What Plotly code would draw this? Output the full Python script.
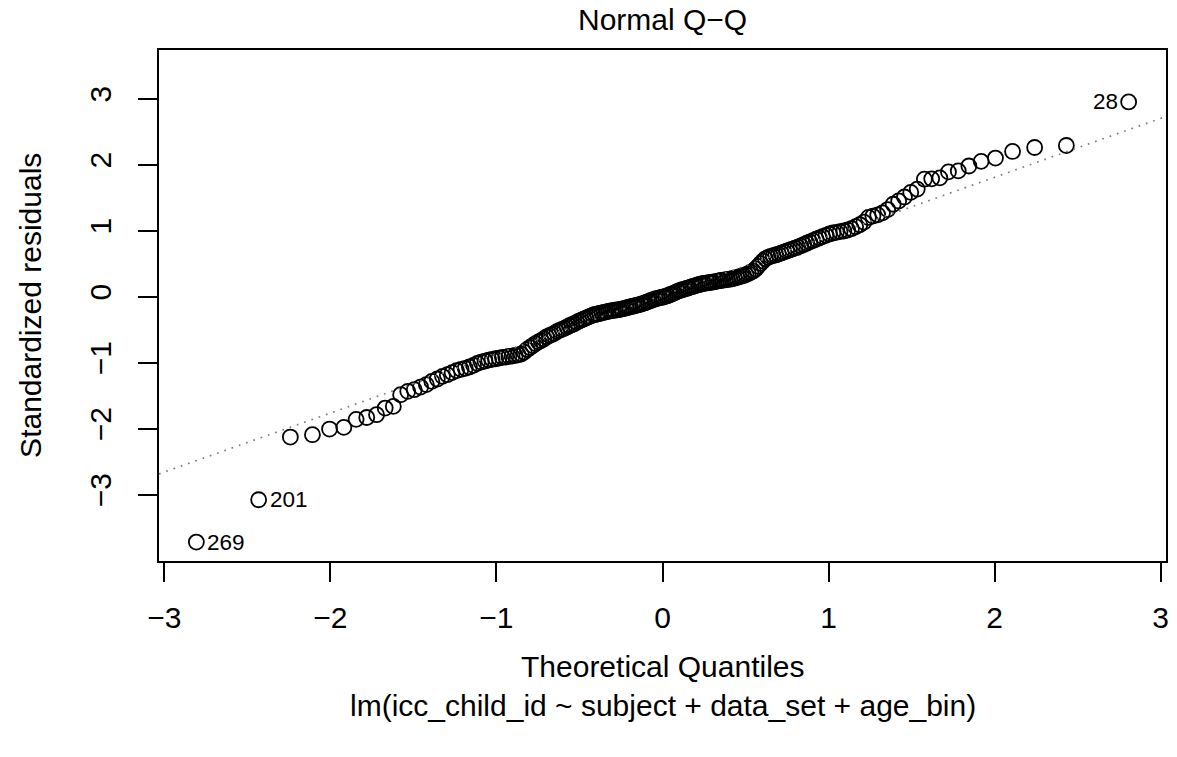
import plotly.graph_objects as go

# Theoretical normal quantiles (x) for n = 200 sorted standardized residuals
theoretical_quantiles = [
    -2.807, -2.432, -2.241, -2.108, -2.005, -1.919, -1.845, -1.781, -1.722, -1.670,
    -1.621, -1.577, -1.534, -1.495, -1.457, -1.422, -1.389, -1.356, -1.325, -1.296,
    -1.267, -1.240, -1.213, -1.188, -1.163, -1.138, -1.115, -1.092, -1.069, -1.047,
    -1.026, -1.005, -0.984, -0.964, -0.944, -0.925, -0.906, -0.887, -0.869, -0.851,
    -0.833, -0.815, -0.798, -0.781, -0.764, -0.747, -0.731, -0.715, -0.698, -0.682,
    -0.667, -0.651, -0.636, -0.620, -0.605, -0.590, -0.575, -0.561, -0.546, -0.532,
    -0.517, -0.503, -0.489, -0.475, -0.461, -0.447, -0.433, -0.419, -0.406, -0.392,
    -0.379, -0.365, -0.352, -0.339, -0.325, -0.312, -0.299, -0.286, -0.273, -0.260,
    -0.247, -0.234, -0.221, -0.208, -0.196, -0.183, -0.170, -0.157, -0.145, -0.132,
    -0.119, -0.107, -0.094, -0.082, -0.069, -0.056, -0.044, -0.031, -0.019, -0.006,
    0.006, 0.019, 0.031, 0.044, 0.056, 0.069, 0.082, 0.094, 0.107, 0.119,
    0.132, 0.145, 0.157, 0.170, 0.183, 0.196, 0.208, 0.221, 0.234, 0.247,
    0.260, 0.273, 0.286, 0.299, 0.312, 0.325, 0.339, 0.352, 0.365, 0.379,
    0.392, 0.406, 0.419, 0.433, 0.447, 0.461, 0.475, 0.489, 0.503, 0.517,
    0.532, 0.546, 0.561, 0.575, 0.590, 0.605, 0.620, 0.636, 0.651, 0.667,
    0.682, 0.698, 0.715, 0.731, 0.747, 0.764, 0.781, 0.798, 0.815, 0.833,
    0.851, 0.869, 0.887, 0.906, 0.925, 0.944, 0.964, 0.984, 1.005, 1.026,
    1.047, 1.069, 1.092, 1.115, 1.138, 1.163, 1.188, 1.213, 1.240, 1.267,
    1.296, 1.325, 1.356, 1.389, 1.422, 1.457, 1.495, 1.534, 1.577, 1.621,
    1.670, 1.722, 1.781, 1.845, 1.919, 2.005, 2.108, 2.241, 2.432, 2.807,
]

# Sorted standardized residuals (y)
standardized_residuals = [
    -3.717, -3.076, -2.126, -2.091, -2.005, -1.980, -1.858, -1.830, -1.788, -1.687,
    -1.662, -1.485, -1.434, -1.409, -1.369, -1.333, -1.283, -1.247, -1.207, -1.182,
    -1.150, -1.120, -1.100, -1.085, -1.065, -1.040, -1.010, -0.990, -0.975, -0.960,
    -0.950, -0.940, -0.930, -0.920, -0.915, -0.905, -0.900, -0.890, -0.880, -0.870,
    -0.840, -0.800, -0.770, -0.740, -0.710, -0.685, -0.665, -0.640, -0.610, -0.590,
    -0.575, -0.555, -0.530, -0.510, -0.495, -0.480, -0.460, -0.440, -0.425, -0.410,
    -0.390, -0.370, -0.355, -0.340, -0.325, -0.310, -0.295, -0.280, -0.270, -0.262,
    -0.255, -0.245, -0.238, -0.230, -0.222, -0.215, -0.210, -0.205, -0.200, -0.195,
    -0.188, -0.180, -0.172, -0.163, -0.155, -0.148, -0.140, -0.132, -0.124, -0.115,
    -0.105, -0.095, -0.082, -0.070, -0.058, -0.045, -0.035, -0.025, -0.018, -0.010,
    -0.005, 0.005, 0.015, 0.030, 0.040, 0.055, 0.070, 0.085, 0.095, 0.105,
    0.115, 0.125, 0.135, 0.145, 0.155, 0.165, 0.175, 0.185, 0.192, 0.200,
    0.205, 0.210, 0.215, 0.220, 0.225, 0.232, 0.240, 0.245, 0.250, 0.255,
    0.260, 0.265, 0.272, 0.280, 0.290, 0.300, 0.310, 0.320, 0.335, 0.350,
    0.370, 0.390, 0.420, 0.460, 0.500, 0.540, 0.575, 0.595, 0.610, 0.622,
    0.632, 0.645, 0.660, 0.675, 0.690, 0.705, 0.720, 0.735, 0.750, 0.770,
    0.790, 0.810, 0.830, 0.850, 0.870, 0.890, 0.910, 0.930, 0.950, 0.965,
    0.975, 0.985, 0.995, 1.010, 1.030, 1.060, 1.090, 1.130, 1.200, 1.220,
    1.240, 1.270, 1.320, 1.400, 1.450, 1.510, 1.580, 1.630, 1.780, 1.785,
    1.800, 1.890, 1.905, 1.980, 2.050, 2.100, 2.200, 2.260, 2.290, 2.950,
]

# Labelled observations (index into sorted arrays, text, side)
label_index = [0, 1, 199]
label_text = ["269", "201", "28"]
label_side = ["right", "right", "left"]

# Q-Q reference line parameters
qq_intercept = 0.023
qq_slope = 0.893

x_ticks = [-3, -2, -1, 0, 1, 2, 3]
y_ticks = [-3, -2, -1, 0, 1, 2, 3]
x_range = [-3.032, 3.032]
y_range = [-4.004, 3.737]

title_text = "Normal Q\u2212Q"
x_label = "Theoretical Quantiles"
sub_label = "lm(icc_child_id ~ subject + data_set + age_bin)"
y_label = "Standardized residuals"

FONT = "Liberation Sans, Arial, Helvetica, sans-serif"
FS = 30

fig = go.Figure()
fig.add_trace(go.Scatter(
    x=theoretical_quantiles, y=standardized_residuals, mode="markers",
    marker=dict(symbol="circle-open", size=15, color="black",
                line=dict(width=1.8, color="black")),
    hoverinfo="x+y", showlegend=False,
))
fig.add_trace(go.Scatter(
    x=x_range, y=[qq_intercept + qq_slope * v for v in x_range], mode="lines",
    line=dict(color="#7f7f7f", width=1.7, dash="1.7px,6px"),
    hoverinfo="skip", showlegend=False,
))

L, R, T, B = 159, 8, 50, 196
W, H = 1177, 757
ph = H - T - B
pw = W - L - R

def py(pix):
    return (H - B - pix) / ph

annotations = []
for idx, txt, side in zip(label_index, label_text, label_side):
    annotations.append(dict(
        x=theoretical_quantiles[idx], y=standardized_residuals[idx],
        xref="x", yref="y", text=txt, showarrow=False,
        xanchor="left" if side == "right" else "right", yanchor="middle",
        xshift=9 if side == "right" else -9,
        font=dict(family=FONT, size=22.5, color="black"),
    ))
annotations += [
    dict(x=0.5, y=py(20), xref="paper", yref="paper", text=title_text,
         showarrow=False, xanchor="center", yanchor="middle",
         font=dict(family=FONT, size=FS, color="black")),
    dict(x=0.5, y=py(666), xref="paper", yref="paper", text=x_label,
         showarrow=False, xanchor="center", yanchor="middle",
         font=dict(family=FONT, size=FS, color="black")),
    dict(x=0.5, y=py(705), xref="paper", yref="paper", text=sub_label,
         showarrow=False, xanchor="center", yanchor="middle",
         font=dict(family=FONT, size=FS, color="black")),
    dict(x=(30 - L) / pw, y=0.5, xref="paper", yref="paper", text=y_label,
         showarrow=False, xanchor="center", yanchor="middle", textangle=-90,
         font=dict(family=FONT, size=FS, color="black")),
]

axis_common = dict(
    showgrid=False, zeroline=False, showline=True, linecolor="black",
    linewidth=1.5, mirror=True, ticks="outside", ticklen=19, tickwidth=1.5,
    tickcolor="black", tickfont=dict(family=FONT, size=FS, color="black"),
)

fig.update_layout(
    width=W, height=H, margin=dict(l=L, r=R, t=T, b=B),
    paper_bgcolor="white", plot_bgcolor="white",
    xaxis=dict(range=x_range, tickmode="array", tickvals=x_ticks,
               ticklabelstandoff=10, **axis_common),
    yaxis=dict(range=y_range, tickmode="array", tickvals=y_ticks,
               tickangle=-90, ticklabelstandoff=15, **axis_common),
    annotations=annotations,
    font=dict(family=FONT, size=FS, color="black"),
)

fig.write_html("out.html")
